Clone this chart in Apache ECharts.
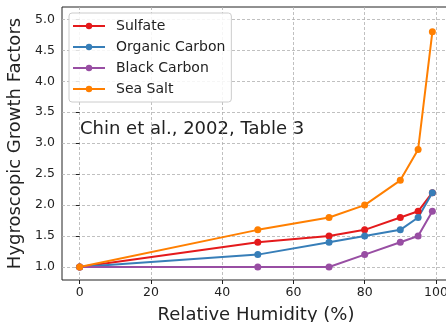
<!DOCTYPE html>
<html>
<head>
<meta charset="utf-8">
<script src="https://cdn.jsdelivr.net/npm/echarts@6/dist/echarts.min.js"></script>
<style>
  html, body { margin: 0; padding: 0; background: #fff; }
  #chart { width: 446px; height: 322px; }
</style>
</head>
<body>
<div id="chart"></div>
<script>
// relative humidity (%) and growth factors, Chin et al. 2002 table 3
var rh = [0, 50, 70, 80, 90, 95, 99];
var sulfate = [1.0, 1.4, 1.5, 1.6, 1.8, 1.9, 2.2];
var organicCarbon = [1.0, 1.2, 1.4, 1.5, 1.6, 1.8, 2.2];
var blackCarbon = [1.0, 1.0, 1.0, 1.2, 1.4, 1.5, 1.9];
var seaSalt = [1.0, 1.6, 1.8, 2.0, 2.4, 2.9, 4.8];
var xTicks = [0, 20, 40, 60, 80, 100];
var yTicks = [1.0, 1.5, 2.0, 2.5, 3.0, 3.5, 4.0, 4.5, 5.0];

var fontName = 'DejaVu Sans';

function pairs(ys) {
  return rh.map(function (x, i) { return [x, ys[i]]; });
}

function mkSeries(name, ys, color) {
  return {
    name: name,
    type: 'line',
    data: pairs(ys),
    symbol: 'circle',
    symbolSize: 7,
    color: color,
    lineStyle: { color: color, width: 2 },
    itemStyle: { color: color },
    emphasis: { disabled: true }
  };
}

var chart = echarts.init(document.getElementById('chart'), null, { renderer: 'canvas' });

var gridLine = { show: true, lineStyle: { color: '#b0b0b0', type: [3, 2], width: 0.8 } };

var option = {
  animation: false,
  textStyle: { fontFamily: fontName },
  grid: {
    left: 62, top: 7, right: -4, bottom: 42,
    outerBoundsMode: 'none',
    containLabel: false,
    show: true, borderColor: '#222', borderWidth: 1
  },
  legend: {
    left: 69, top: 13,
    orient: 'vertical',
    itemWidth: 32, itemHeight: 8, itemGap: 7,
    padding: [6, 6, 6, 3],
    backgroundColor: 'rgba(255,255,255,0.85)',
    borderColor: '#ccc', borderWidth: 1, borderRadius: 3,
    textStyle: { fontFamily: fontName, fontSize: 14, color: '#222', padding: [0, 0, 0, 6] },
    data: ['Sulfate', 'Organic Carbon', 'Black Carbon', 'Sea Salt']
  },
  xAxis: {
    type: 'value',
    min: -4.95, max: 103.95,
    name: 'Relative Humidity (%)',
    nameLocation: 'middle', nameGap: 26,
    nameTextStyle: { fontFamily: fontName, fontSize: 18, color: '#222' },
    axisLine: { show: false },
    axisTick: { show: true, length: 4, lineStyle: { color: '#222' }, customValues: xTicks },
    axisLabel: { fontFamily: fontName, fontSize: 12.5, color: '#222', margin: 6, customValues: xTicks,
                 showMinLabel: true, showMaxLabel: true, hideOverlap: false },
    splitLine: gridLine
  },
  yAxis: {
    type: 'value',
    min: 0.79, max: 5.2,
    name: 'Hygroscopic Growth Factors',
    nameLocation: 'middle', nameGap: 36,
    nameTextStyle: { fontFamily: fontName, fontSize: 18, color: '#222' },
    axisLine: { show: false },
    axisTick: { show: true, length: 4, lineStyle: { color: '#222' }, customValues: yTicks },
    axisLabel: { fontFamily: fontName, fontSize: 12.5, color: '#222', margin: 7, customValues: yTicks,
                 formatter: function (v) { return v.toFixed(1); } },
    splitLine: gridLine
  },
  graphic: [{
    type: 'text',
    left: 80, top: 120,
    style: { text: 'Chin et al., 2002, Table 3', font: '18px "DejaVu Sans"', fill: '#222' }
  }],
  series: [
    mkSeries('Sulfate', sulfate, '#e41a1c'),
    mkSeries('Organic Carbon', organicCarbon, '#377eb8'),
    mkSeries('Black Carbon', blackCarbon, '#984ea3'),
    mkSeries('Sea Salt', seaSalt, '#ff7f00')
  ]
};

chart.setOption(option);
</script>
</body>
</html>
